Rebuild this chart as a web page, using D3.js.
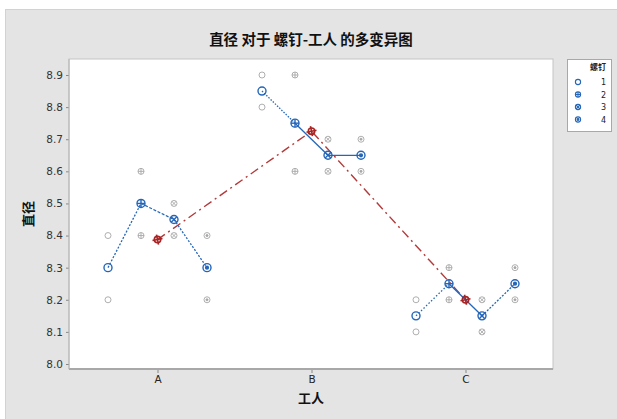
<!DOCTYPE html>
<html>
<head>
<meta charset="utf-8">
<script src="https://cdn.jsdelivr.net/npm/d3@7"></script>
<style>
  html, body { margin: 0; padding: 0; background: #ffffff; }
  svg { display: block; }
</style>
</head>
<body>
<svg id="chart" width="617" height="419"></svg>
<script>
// Diameter measurements: 3 workers x 4 screws x 2 replicates
const workers = ["A", "B", "C"];
const screws = ["1", "2", "3", "4"];
const replicate1 = [
  [8.4, 8.6, 8.5, 8.4],   // A
  [8.9, 8.9, 8.7, 8.7],   // B
  [8.2, 8.3, 8.2, 8.3]    // C
];
const replicate2 = [
  [8.2, 8.4, 8.4, 8.2],
  [8.8, 8.6, 8.6, 8.6],
  [8.1, 8.2, 8.1, 8.2]
];
const yTicks = [8.0, 8.1, 8.2, 8.3, 8.4, 8.5, 8.6, 8.7, 8.8, 8.9];

const titleText = "直径 对于 螺钉-工人 的多变异图";
const xTitle = "工人";
const yTitle = "直径";
const legendTitle = "螺钉";

const svg = d3.select("#chart");
const cjk = "'Noto Sans CJK SC', 'Noto Sans', sans-serif";
const latin = "'DejaVu Sans', 'Liberation Sans', sans-serif";

// frame background
svg.append("rect").attr("x", 5.5).attr("y", 9.5).attr("width", 612).attr("height", 410)
  .attr("fill", "#e4e4e4").attr("stroke", "#d2d2d2");

const plot = { left: 69, top: 59, right: 553, bottom: 369 };

svg.append("rect")
  .attr("x", plot.left).attr("y", plot.top)
  .attr("width", plot.right - plot.left).attr("height", plot.bottom - plot.top)
  .attr("fill", "#ffffff").attr("stroke", "#c4c4c4").attr("stroke-width", 1);

const y = d3.scaleLinear().domain([8.0, 8.9]).range([364, 75]);
const xWorker = d3.scalePoint().domain(workers).range([157.5, 465.5]);
const xScrew = d3.scalePoint().domain(screws).range([-49.5, 49.5]);
const px = (w, s) => xWorker(w) + xScrew(s);

// axes
const yAxis = d3.axisLeft(y).tickValues(yTicks).tickFormat(d3.format(".1f")).tickSize(3).tickPadding(3);
const gy = svg.append("g").attr("transform", `translate(${plot.left},0)`).call(yAxis);
gy.select(".domain").remove();
gy.selectAll("line").attr("stroke", "#888");
gy.selectAll("text").attr("font-family", latin).attr("font-size", 10.5).attr("fill", "#333");

const xAxis = d3.axisBottom(xWorker).tickSize(4).tickPadding(3);
const gx = svg.append("g").attr("transform", `translate(0,${plot.bottom})`).call(xAxis);
gx.select(".domain").remove();
gx.selectAll("line").attr("stroke", "#888");
gx.selectAll("text").attr("font-family", latin).attr("font-size", 10.5).attr("fill", "#222");

svg.append("line").attr("x1", plot.left).attr("x2", plot.right)
  .attr("y1", plot.bottom).attr("y2", plot.bottom)
  .attr("stroke", "#a8a8a8").attr("stroke-width", 2);
svg.append("line").attr("x1", plot.left).attr("x2", plot.left)
  .attr("y1", plot.top).attr("y2", plot.bottom)
  .attr("stroke", "#b4b4b4").attr("stroke-width", 1);

// titles
svg.append("text").attr("x", 311).attr("y", 45).attr("text-anchor", "middle")
  .attr("font-family", cjk).attr("font-weight", "bold").attr("font-size", 14.5)
  .attr("fill", "#111").text(titleText);
svg.append("text").attr("x", 311).attr("y", 403).attr("text-anchor", "middle")
  .attr("font-family", cjk).attr("font-weight", "bold").attr("font-size", 13)
  .attr("fill", "#111").text(xTitle);
svg.append("text").attr("transform", "translate(33,214) rotate(-90)").attr("text-anchor", "middle")
  .attr("font-family", cjk).attr("font-weight", "bold").attr("font-size", 13)
  .attr("fill", "#111").text(yTitle);

// symbol per screw
function drawSymbol(g, cx, cy, r, idx, color, sw) {
  const s = g.append("g").attr("transform", `translate(${cx},${cy})`)
    .attr("fill", "none").attr("stroke", color).attr("stroke-width", sw);
  s.append("circle").attr("r", r);
  if (idx === 1) {
    s.append("line").attr("x1", -r).attr("x2", r);
    s.append("line").attr("y1", -r).attr("y2", r);
  } else if (idx === 2) {
    const k = r * 0.7;
    s.append("line").attr("x1", -k).attr("y1", -k).attr("x2", k).attr("y2", k);
    s.append("line").attr("x1", -k).attr("y1", k).attr("x2", k).attr("y2", -k);
  } else if (idx === 3) {
    s.append("circle").attr("r", r * 0.35).attr("fill", color);
  }
}

// raw points
const rawG = svg.append("g");
workers.forEach((w, wi) => {
  screws.forEach((s, si) => {
    [replicate1[wi][si], replicate2[wi][si]].forEach(v => {
      drawSymbol(rawG, px(w, s), y(v), 3, si, "#a6a6a6", 0.9);
    });
  });
});

// worker means (red)
const workerMeans = workers.map((w, wi) =>
  d3.mean(screws.map((s, si) => (replicate1[wi][si] + replicate2[wi][si]) / 2)));
const redLine = d3.line().x((d, i) => xWorker(workers[i])).y(d => y(d));
svg.append("path").datum(workerMeans).attr("d", redLine)
  .attr("fill", "none").attr("stroke", "#b23a3a").attr("stroke-width", 1.4)
  .attr("stroke-dasharray", "9,4,2,4");

// screw means within each worker (blue)
const blue = "#2466b8";
const segDash = [
  ["2,1.6", "3,1.6", "2,1.6"],
  ["1.5,1.5", null, null],
  ["1.5,2", null, "2,1.5"]
];
workers.forEach((w, wi) => {
  const means = screws.map((s, si) => (replicate1[wi][si] + replicate2[wi][si]) / 2);
  for (let i = 0; i < 3; i++) {
    const ln = svg.append("line")
      .attr("x1", px(w, screws[i])).attr("y1", y(means[i]))
      .attr("x2", px(w, screws[i + 1])).attr("y2", y(means[i + 1]))
      .attr("stroke", blue).attr("stroke-width", 1.3);
    if (segDash[wi][i]) ln.attr("stroke-dasharray", segDash[wi][i]);
  }
  screws.forEach((s, si) => {
    drawSymbol(svg, px(w, s), y(means[si]), 4, si, blue, 1.4);
  });
});

// red mean markers
workers.forEach((w, wi) => {
  const g = svg.append("g").attr("transform", `translate(${xWorker(w)},${y(workerMeans[wi])})`)
    .attr("stroke", "#a82424").attr("stroke-width", 1.6).attr("fill", "none");
  g.append("circle").attr("r", 3.2);
  g.append("line").attr("x1", -5).attr("x2", 5).attr("y1", 1).attr("y2", -1);
  g.append("line").attr("x1", -1).attr("x2", 1).attr("y1", -5).attr("y2", 5);
});

// legend
const lg = svg.append("g");
lg.append("rect").attr("x", 567.5).attr("y", 59.5).attr("width", 44).attr("height", 72)
  .attr("fill", "#ffffff").attr("stroke", "#a8a8a8");
lg.append("text").attr("x", 606).attr("y", 70).attr("text-anchor", "end")
  .attr("font-family", cjk).attr("font-weight", "bold").attr("font-size", 8)
  .attr("fill", "#222").text(legendTitle);
screws.forEach((s, si) => {
  const ly = 82 + si * 12.5;
  drawSymbol(lg, 578, ly, 2.6, si, blue, 1.1);
  lg.append("text").attr("x", 606).attr("y", ly + 3).attr("text-anchor", "end")
    .attr("font-family", latin).attr("font-size", 8).attr("fill", "#222").text(s);
});
</script>
</body>
</html>
